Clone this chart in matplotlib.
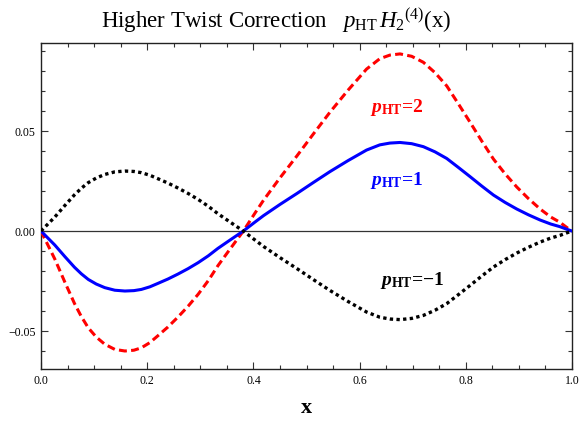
import numpy as np
import matplotlib
matplotlib.use('Agg')
import matplotlib.pyplot as plt
from matplotlib.ticker import MultipleLocator

plt.rcParams['font.family'] = 'Liberation Serif'
plt.rcParams['mathtext.fontset'] = 'custom'
plt.rcParams['mathtext.rm'] = 'Liberation Serif'
plt.rcParams['mathtext.it'] = 'Liberation Serif:italic'
plt.rcParams['mathtext.bf'] = 'Liberation Serif:bold'
plt.rcParams['mathtext.bfit'] = 'Liberation Serif:italic:bold'

x_vals = [0.0, 0.010, 0.026, 0.045, 0.063, 0.076, 0.089, 0.104, 0.120, 0.139,
          0.158, 0.175, 0.189, 0.205, 0.220, 0.239, 0.258, 0.277, 0.296, 0.315,
          0.333, 0.356, 0.381, 0.403, 0.419, 0.450, 0.482, 0.513, 0.544, 0.578,
          0.613, 0.638, 0.657, 0.676, 0.698, 0.720, 0.742, 0.764, 0.786, 0.808,
          0.830, 0.852, 0.874, 0.896, 0.918, 0.940, 0.960, 0.977, 0.990, 1.0]
h2_vals = [0.0, -0.0027, -0.0070, -0.0128, -0.0181, -0.0214, -0.0242, -0.0265,
           -0.0283, -0.0296, -0.0300, -0.0298, -0.0292, -0.0279, -0.0262,
           -0.0240, -0.0215, -0.0188, -0.0158, -0.0124, -0.0087, -0.0045, 0.0,
           0.0045, 0.0077, 0.0133, 0.0188, 0.0243, 0.0297, 0.0352, 0.0405,
           0.0431, 0.0440, 0.0443, 0.0437, 0.0422, 0.0396, 0.0363, 0.0318,
           0.0272, 0.0225, 0.0180, 0.0143, 0.0110, 0.0081, 0.0055, 0.0035,
           0.0022, 0.0009, 0.0]

p_ht = [2, 1, -1]
labels = [r'$\mathbfit{p}_{\mathbf{HT}}$=2',
          r'$\mathbfit{p}_{\mathbf{HT}}$=1',
          r'$\mathbfit{p}_{\mathbf{HT}}$=' + '\u22121']
label_pos = [(0.670, 0.062), (0.670, 0.0255), (0.699, -0.0245)]

colors = ['#ff0000', '#0000ff', '#000000']
styles = [(0, (2.6, 1.4)), '-', (0, (1.0, 1.0))]
widths = [2.2, 2.2, 2.4]

fig = plt.figure(figsize=(5.79, 4.22), dpi=100)
ax = fig.add_axes([0.0708, 0.1256, 0.9172, 0.7732])

x = np.array(x_vals)
h = np.array(h2_vals)

ax.axhline(0, color='#333333', lw=0.9, zorder=1)

for p, c, ls, lw in zip(p_ht, colors, styles, widths):
    ax.plot(x, p * h, color=c, linestyle=ls, lw=lw, dash_capstyle='butt',
            solid_joinstyle='round', solid_capstyle='round', zorder=3)

for (tx, ty), lab, c in zip(label_pos, labels, colors):
    ax.text(tx, ty, lab, color=c, fontsize=14,
            fontweight='bold', ha='center', va='center')

ax.set_xlim(0, 1)
ax.set_ylim(-0.069, 0.0942)

ax.xaxis.set_major_locator(MultipleLocator(0.2))
ax.xaxis.set_minor_locator(MultipleLocator(0.05))
ax.yaxis.set_major_locator(MultipleLocator(0.05))
ax.yaxis.set_minor_locator(MultipleLocator(0.01))
ax.xaxis.set_major_formatter(lambda v, pos: f'{v:.1f}')
ax.yaxis.set_major_formatter(lambda v, pos: f'{v:.2f}'.replace('-', '\u2212'))

ax.tick_params(which='both', direction='in', top=True, right=True,
               labelsize=8.5, color='#333333', width=0.8)
ax.tick_params(which='major', length=5, pad=4)
ax.tick_params(which='minor', length=3)

for s in ax.spines.values():
    s.set_linewidth(1.0)
    s.set_color('#222222')

ax.set_xlabel('x', fontsize=16, fontweight='bold', labelpad=8)

fig.text(0.477, 0.952,
         r'Higher Twist Correction   $p_{\mathrm{HT}}\,H_{2}{}^{(4)}(\mathrm{x})$',
         fontsize=16.5, ha='center', va='center')

fig.savefig('out.png', dpi=100)
